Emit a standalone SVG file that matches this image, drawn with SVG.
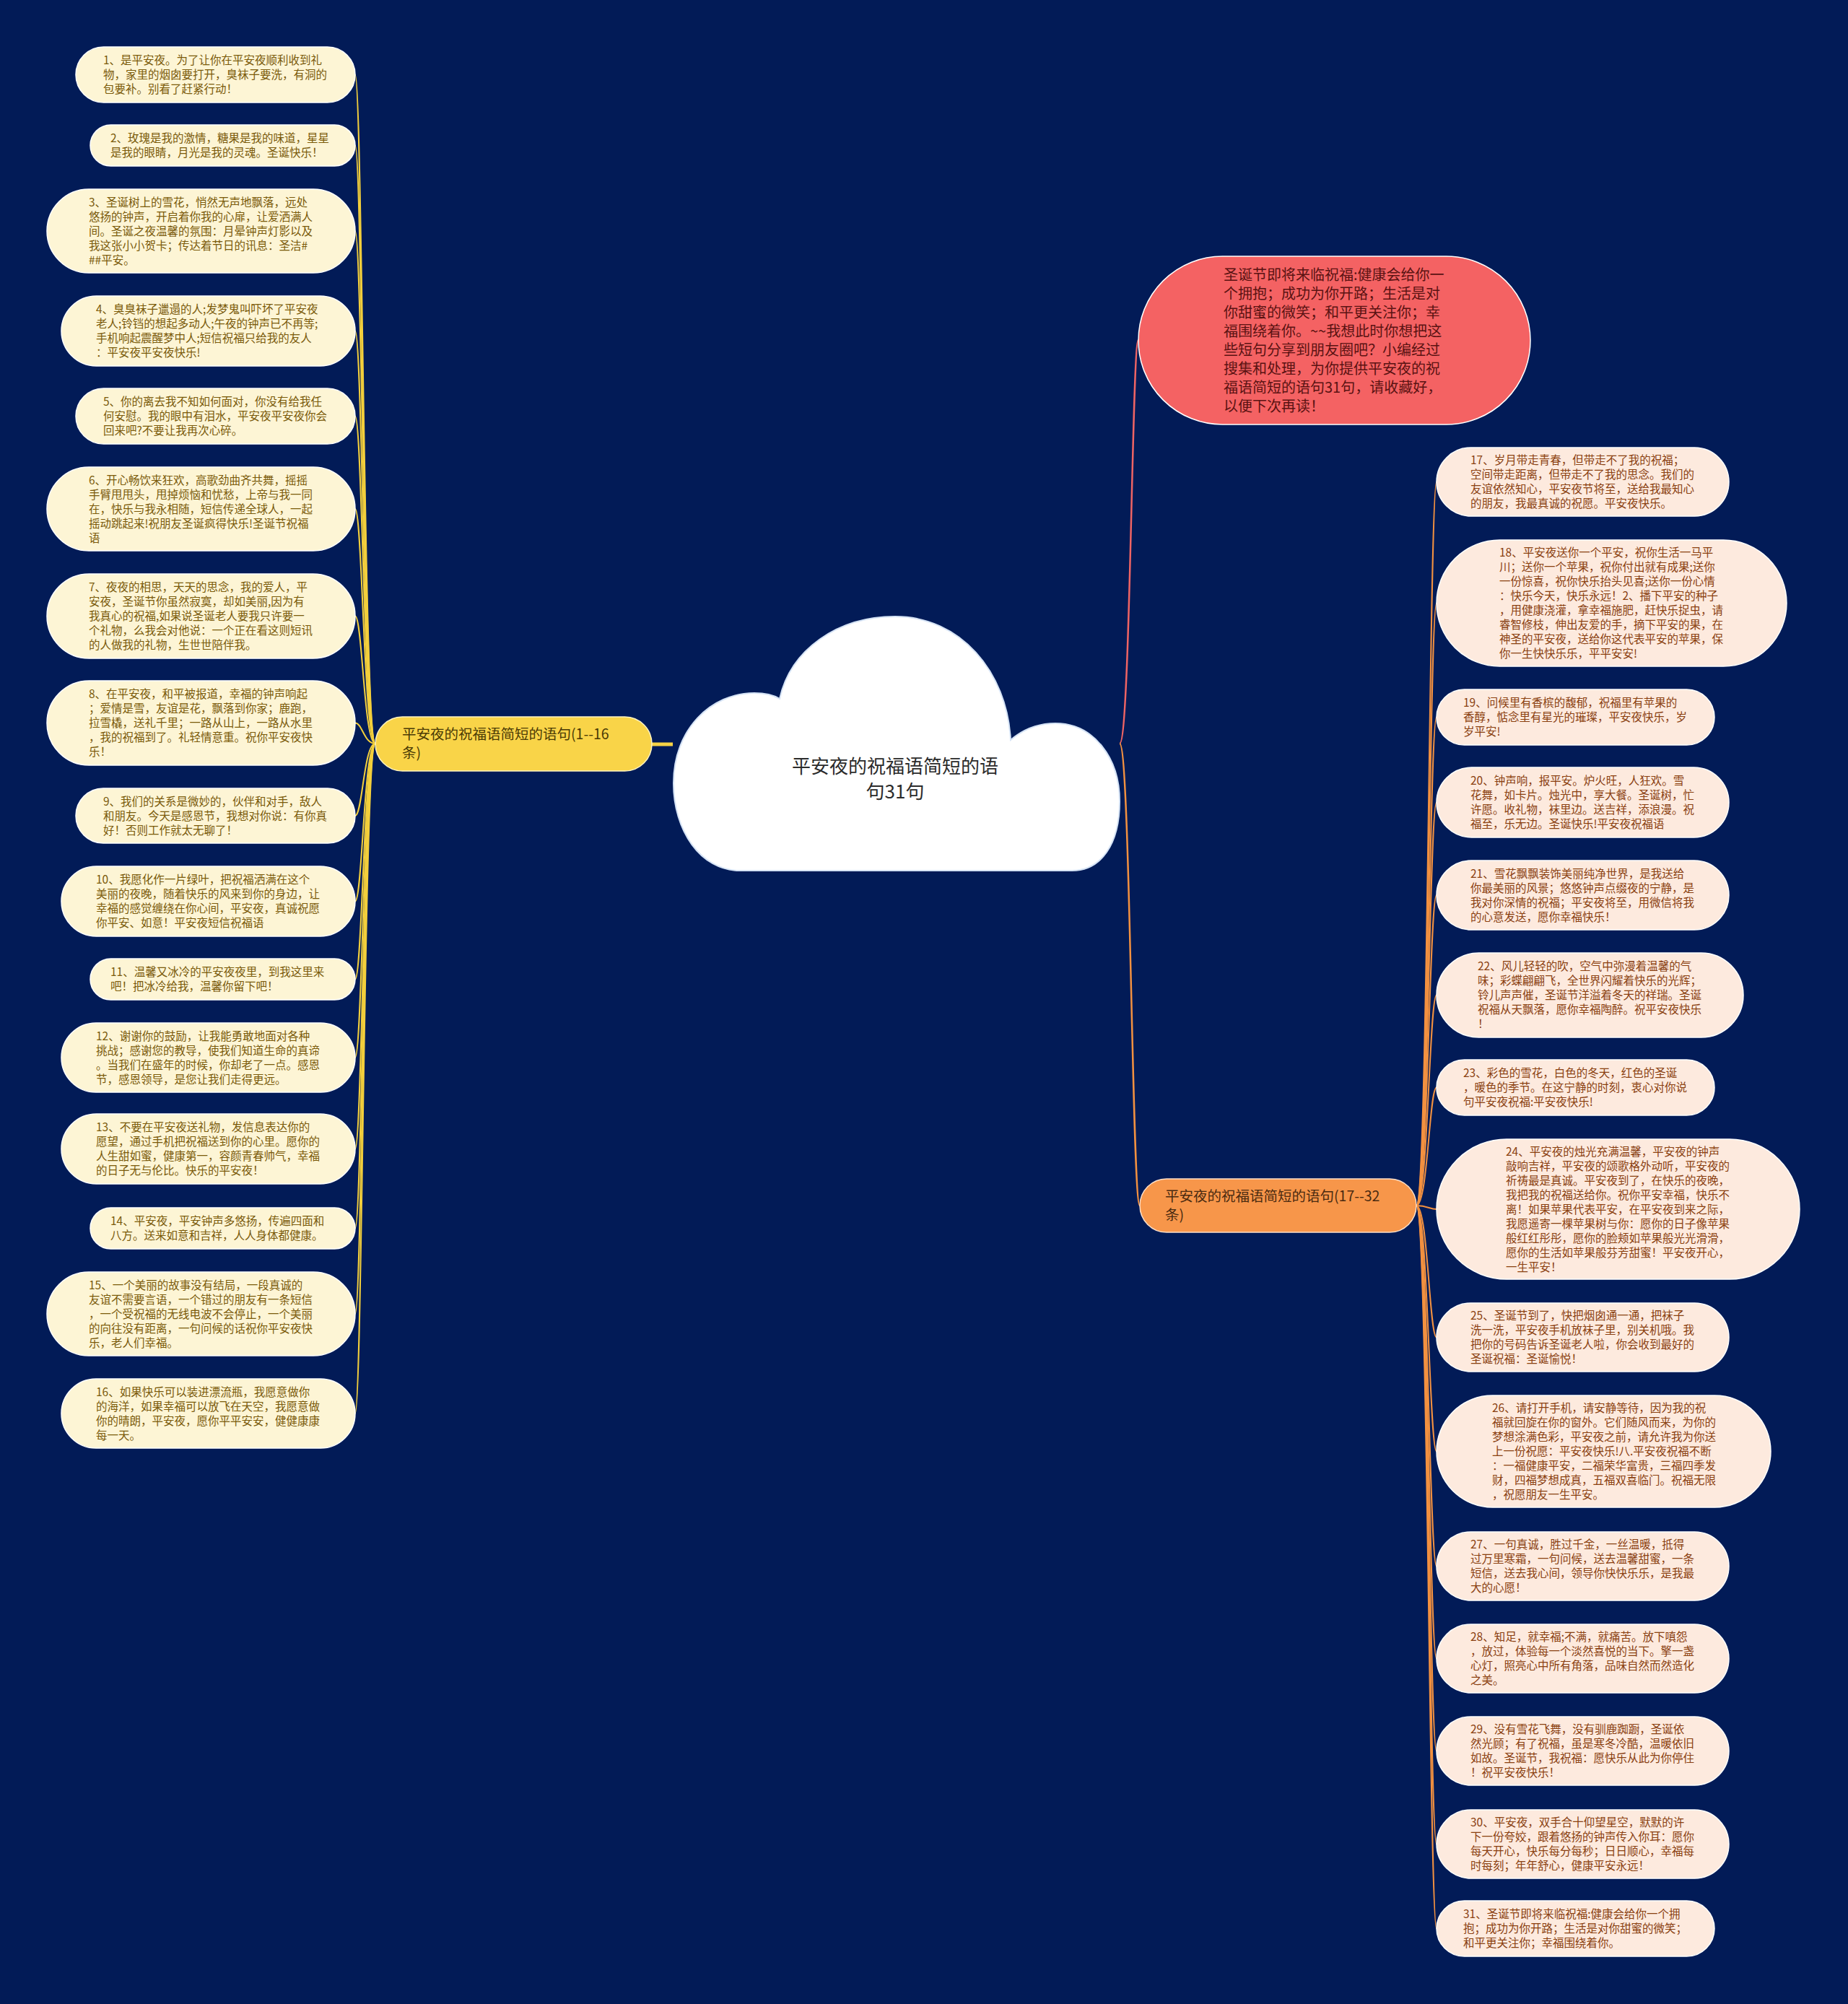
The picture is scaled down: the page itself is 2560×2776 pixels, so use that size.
<svg xmlns="http://www.w3.org/2000/svg" width="2560" height="2776" viewBox="0 0 2560 2776">
<style>
text{font-family:"Noto Sans CJK SC","Noto Sans CJK JP",sans-serif;}
.ln{fill:#fdf5d5;stroke:#ffffff;stroke-width:1.5;}
.rn{fill:#fdeade;stroke:#ffffff;stroke-width:1.5;}
.tl{font-size:15.5px;fill:#7a5a0a;}
.tr{font-size:15.5px;fill:#8a4010;}
.cl{fill:none;stroke:#f3cf3c;stroke-width:2;}
.cr{fill:none;stroke:#f39140;stroke-width:2;}
</style>
<rect x="0" y="0" width="2560" height="2776" fill="#021b57"/>
<g id="connectors">
<path d="M903,1031 L932,1031" stroke="#f6d345" stroke-width="5" fill="none"/>
<path d="M1551,1030 C1566,1030 1568,471 1577,471" stroke="#ef6464" stroke-width="2.5" fill="none"/>
<path d="M1551,1030 C1566,1030 1568,1670 1579,1670" stroke="#f39140" stroke-width="2.5" fill="none"/>
<path class="cl" d="M520,1030 C504,1030 502,103.5 492,103.5"/>
<path class="cl" d="M520,1030 C504,1030 502,201.5 492,201.5"/>
<path class="cl" d="M520,1030 C504,1030 502,320 492,320"/>
<path class="cl" d="M520,1030 C504,1030 502,458.5 492,458.5"/>
<path class="cl" d="M520,1030 C504,1030 502,576.5 492,576.5"/>
<path class="cl" d="M520,1030 C504,1030 502,705 492,705"/>
<path class="cl" d="M520,1030 C504,1030 502,853.5 492,853.5"/>
<path class="cl" d="M520,1030 C504,1030 502,1001.5 492,1001.5"/>
<path class="cl" d="M520,1030 C504,1030 502,1130 492,1130"/>
<path class="cl" d="M520,1030 C504,1030 502,1248.5 492,1248.5"/>
<path class="cl" d="M520,1030 C504,1030 502,1356.5 492,1356.5"/>
<path class="cl" d="M520,1030 C504,1030 502,1465 492,1465"/>
<path class="cl" d="M520,1030 C504,1030 502,1591.5 492,1591.5"/>
<path class="cl" d="M520,1030 C504,1030 502,1701.5 492,1701.5"/>
<path class="cl" d="M520,1030 C504,1030 502,1820 492,1820"/>
<path class="cl" d="M520,1030 C504,1030 502,1958 492,1958"/>
<path class="cr" d="M1962,1670 C1978,1670 1980,667.5 1990,667.5"/>
<path class="cr" d="M1962,1670 C1978,1670 1980,835.5 1990,835.5"/>
<path class="cr" d="M1962,1670 C1978,1670 1980,993.5 1990,993.5"/>
<path class="cr" d="M1962,1670 C1978,1670 1980,1111.5 1990,1111.5"/>
<path class="cr" d="M1962,1670 C1978,1670 1980,1240 1990,1240"/>
<path class="cr" d="M1962,1670 C1978,1670 1980,1378.5 1990,1378.5"/>
<path class="cr" d="M1962,1670 C1978,1670 1980,1506.5 1990,1506.5"/>
<path class="cr" d="M1962,1670 C1978,1670 1980,1675 1990,1675"/>
<path class="cr" d="M1962,1670 C1978,1670 1980,1852.5 1990,1852.5"/>
<path class="cr" d="M1962,1670 C1978,1670 1980,2010.5 1990,2010.5"/>
<path class="cr" d="M1962,1670 C1978,1670 1980,2169.5 1990,2169.5"/>
<path class="cr" d="M1962,1670 C1978,1670 1980,2297.5 1990,2297.5"/>
<path class="cr" d="M1962,1670 C1978,1670 1980,2425.5 1990,2425.5"/>
<path class="cr" d="M1962,1670 C1978,1670 1980,2554.5 1990,2554.5"/>
<path class="cr" d="M1962,1670 C1978,1670 1980,2671.5 1990,2671.5"/>
</g>
<g id="root">
<path d="M1025,1206 C970,1206 933,1150 933,1085 C933,1010 985,960 1045,960 C1060,960 1072,963 1080,968 C1095,900 1160,854 1240,854 C1330,854 1395,930 1400,1025 C1420,1008 1440,1002 1462,1002 C1515,1002 1551,1050 1551,1110 C1551,1170 1525,1206 1485,1206 Z" fill="#ffffff" stroke="#d5e3f5" stroke-width="2"/>
<text x="1240" y="1071" font-size="26" fill="#2b2b2b" text-anchor="middle">平安夜的祝福语简短的语</text>
<text x="1240" y="1106" font-size="26" fill="#2b2b2b" text-anchor="middle">句31句</text>
</g>
<g id="branch-left">
<rect x="520" y="993" width="383" height="75" rx="37.5" fill="#f9d448" stroke="#fff4c0" stroke-width="1.5"/>
<text font-size="19.5" fill="#4a3a05"><tspan x="557" y="1023.5">平安夜的祝福语简短的语句(1--16</tspan><tspan x="557" y="1050">条)</tspan></text>
</g>
<g id="branch-right">
<rect x="1579" y="1633" width="383" height="74" rx="37" fill="#f7964a" stroke="#ffe0c8" stroke-width="1.5"/>
<text font-size="19.5" fill="#4a2a10"><tspan x="1614" y="1663.5">平安夜的祝福语简短的语句(17--32</tspan><tspan x="1614" y="1690">条)</tspan></text>
</g>
<g id="summary">
<rect x="1577" y="355" width="543" height="233" rx="116.5" fill="#f46263" stroke="#ffffff" stroke-width="1.5"/>
<text font-size="20" fill="#5a1212"><tspan x="1695" y="387.5">圣诞节即将来临祝福:健康会给你一</tspan><tspan x="1695" y="413.5">个拥抱；成功为你开路；生活是对</tspan><tspan x="1695" y="439.5">你甜蜜的微笑；和平更关注你；幸</tspan><tspan x="1695" y="465.5">福围绕着你。~~我想此时你想把这</tspan><tspan x="1695" y="491.5">些短句分享到朋友圈吧？小编经过</tspan><tspan x="1695" y="517.5">搜集和处理，为你提供平安夜的祝</tspan><tspan x="1695" y="543.5">福语简短的语句31句，请收藏好，</tspan><tspan x="1695" y="569.5">以便下次再读！</tspan></text>
</g>
<g id="n1"><rect class="ln" x="105" y="65" width="387" height="77" rx="38.5"/><text class="tl"><tspan x="143" y="89">1、是平安夜。为了让你在平安夜顺利收到礼</tspan><tspan x="143" y="109">物，家里的烟囱要打开，臭袜子要洗，有洞的</tspan><tspan x="143" y="129">包要补。别看了赶紧行动！</tspan></text></g>
<g id="n2"><rect class="ln" x="125" y="173" width="367" height="57" rx="28.5"/><text class="tl"><tspan x="153" y="197">2、玫瑰是我的激情，糖果是我的味道，星星</tspan><tspan x="153" y="217">是我的眼睛，月光是我的灵魂。圣诞快乐！</tspan></text></g>
<g id="n3"><rect class="ln" x="65" y="262" width="427" height="116" rx="58"/><text class="tl"><tspan x="123" y="285.5">3、圣诞树上的雪花，悄然无声地飘落，远处</tspan><tspan x="123" y="305.5">悠扬的钟声，开启着你我的心扉，让爱洒满人</tspan><tspan x="123" y="325.5">间。圣诞之夜温馨的氛围：月晕钟声灯影以及</tspan><tspan x="123" y="345.5">我这张小小贺卡；传达着节日的讯息：圣洁#</tspan><tspan x="123" y="365.5">##平安。</tspan></text></g>
<g id="n4"><rect class="ln" x="85" y="410" width="407" height="97" rx="48.5"/><text class="tl"><tspan x="133" y="434">4、臭臭袜子邋遢的人;发梦鬼叫吓坏了平安夜</tspan><tspan x="133" y="454">老人;铃铛的想起多动人;午夜的钟声已不再等;</tspan><tspan x="133" y="474">手机响起震醒梦中人;短信祝福只给我的友人</tspan><tspan x="133" y="494">：平安夜平安夜快乐!</tspan></text></g>
<g id="n5"><rect class="ln" x="105" y="538" width="387" height="77" rx="38.5"/><text class="tl"><tspan x="143" y="562">5、你的离去我不知如何面对，你没有给我任</tspan><tspan x="143" y="582">何安慰。我的眼中有泪水，平安夜平安夜你会</tspan><tspan x="143" y="602">回来吧?不要让我再次心碎。</tspan></text></g>
<g id="n6"><rect class="ln" x="65" y="647" width="427" height="116" rx="58"/><text class="tl"><tspan x="123" y="670.5">6、开心畅饮来狂欢，高歌劲曲齐共舞，摇摇</tspan><tspan x="123" y="690.5">手臂甩甩头，甩掉烦恼和忧愁，上帝与我一同</tspan><tspan x="123" y="710.5">在，快乐与我永相随，短信传递全球人，一起</tspan><tspan x="123" y="730.5">摇动跳起来!祝朋友圣诞疯得快乐!圣诞节祝福</tspan><tspan x="123" y="750.5">语</tspan></text></g>
<g id="n7"><rect class="ln" x="65" y="795" width="427" height="117" rx="58.5"/><text class="tl"><tspan x="123" y="819">7、夜夜的相思，天天的思念，我的爱人，平</tspan><tspan x="123" y="839">安夜，圣诞节你虽然寂寞，却如美丽,因为有</tspan><tspan x="123" y="859">我真心的祝福,如果说圣诞老人要我只许要一</tspan><tspan x="123" y="879">个礼物，么我会对他说：一个正在看这则短讯</tspan><tspan x="123" y="899">的人做我的礼物，生世世陪伴我。</tspan></text></g>
<g id="n8"><rect class="ln" x="65" y="943" width="427" height="117" rx="58.5"/><text class="tl"><tspan x="123" y="967">8、在平安夜，和平被报道，幸福的钟声响起</tspan><tspan x="123" y="987">；爱情是雪，友谊是花，飘落到你家；鹿跑，</tspan><tspan x="123" y="1007">拉雪橇，送礼千里；一路从山上，一路从水里</tspan><tspan x="123" y="1027">，我的祝福到了。礼轻情意重。祝你平安夜快</tspan><tspan x="123" y="1047">乐！</tspan></text></g>
<g id="n9"><rect class="ln" x="105" y="1092" width="387" height="76" rx="38"/><text class="tl"><tspan x="143" y="1115.5">9、我们的关系是微妙的，伙伴和对手，敌人</tspan><tspan x="143" y="1135.5">和朋友。今天是感恩节，我想对你说：有你真</tspan><tspan x="143" y="1155.5">好！否则工作就太无聊了！</tspan></text></g>
<g id="n10"><rect class="ln" x="85" y="1200" width="407" height="97" rx="48.5"/><text class="tl"><tspan x="133" y="1224">10、我愿化作一片绿叶，把祝福洒满在这个</tspan><tspan x="133" y="1244">美丽的夜晚，随着快乐的风来到你的身边，让</tspan><tspan x="133" y="1264">幸福的感觉缠绕在你心间，平安夜，真诚祝愿</tspan><tspan x="133" y="1284">你平安、如意！平安夜短信祝福语</tspan></text></g>
<g id="n11"><rect class="ln" x="125" y="1328" width="367" height="57" rx="28.5"/><text class="tl"><tspan x="153" y="1352">11、温馨又冰冷的平安夜夜里，到我这里来</tspan><tspan x="153" y="1372">吧！把冰冷给我，温馨你留下吧！</tspan></text></g>
<g id="n12"><rect class="ln" x="85" y="1417" width="407" height="96" rx="48"/><text class="tl"><tspan x="133" y="1440.5">12、谢谢你的鼓励，让我能勇敢地面对各种</tspan><tspan x="133" y="1460.5">挑战；感谢您的教导，使我们知道生命的真谛</tspan><tspan x="133" y="1480.5">。当我们在盛年的时候，你却老了一点。感恩</tspan><tspan x="133" y="1500.5">节，感恩领导，是您让我们走得更远。</tspan></text></g>
<g id="n13"><rect class="ln" x="85" y="1543" width="407" height="97" rx="48.5"/><text class="tl"><tspan x="133" y="1567">13、不要在平安夜送礼物，发信息表达你的</tspan><tspan x="133" y="1587">愿望，通过手机把祝福送到你的心里。愿你的</tspan><tspan x="133" y="1607">人生甜如蜜，健康第一，容颜青春帅气，幸福</tspan><tspan x="133" y="1627">的日子无与伦比。快乐的平安夜！</tspan></text></g>
<g id="n14"><rect class="ln" x="125" y="1673" width="367" height="57" rx="28.5"/><text class="tl"><tspan x="153" y="1697">14、平安夜，平安钟声多悠扬，传遍四面和</tspan><tspan x="153" y="1717">八方。送来如意和吉祥，人人身体都健康。</tspan></text></g>
<g id="n15"><rect class="ln" x="65" y="1762" width="427" height="116" rx="58"/><text class="tl"><tspan x="123" y="1785.5">15、一个美丽的故事没有结局，一段真诚的</tspan><tspan x="123" y="1805.5">友谊不需要言语，一个错过的朋友有一条短信</tspan><tspan x="123" y="1825.5">，一个受祝福的无线电波不会停止，一个美丽</tspan><tspan x="123" y="1845.5">的向往没有距离，一句问候的话祝你平安夜快</tspan><tspan x="123" y="1865.5">乐，老人们幸福。</tspan></text></g>
<g id="n16"><rect class="ln" x="85" y="1910" width="407" height="96" rx="48"/><text class="tl"><tspan x="133" y="1933.5">16、如果快乐可以装进漂流瓶，我愿意做你</tspan><tspan x="133" y="1953.5">的海洋，如果幸福可以放飞在天空，我愿意做</tspan><tspan x="133" y="1973.5">你的晴朗，平安夜，愿你平平安安，健健康康</tspan><tspan x="133" y="1993.5">每一天。</tspan></text></g>
<g id="n17"><rect class="rn" x="1990" y="620" width="405" height="95" rx="47.5"/><text class="tr"><tspan x="2037" y="643">17、岁月带走青春，但带走不了我的祝福；</tspan><tspan x="2037" y="663">空间带走距离，但带走不了我的思念。我们的</tspan><tspan x="2037" y="683">友谊依然知心，平安夜节将至，送给我最知心</tspan><tspan x="2037" y="703">的朋友，我最真诚的祝愿。平安夜快乐。</tspan></text></g>
<g id="n18"><rect class="rn" x="1990" y="748" width="485" height="175" rx="87.5"/><text class="tr"><tspan x="2077" y="771">18、平安夜送你一个平安，祝你生活一马平</tspan><tspan x="2077" y="791">川；送你一个苹果，祝你付出就有成果;送你</tspan><tspan x="2077" y="811">一份惊喜，祝你快乐抬头见喜;送你一份心情</tspan><tspan x="2077" y="831">：快乐今天，快乐永远！2、播下平安的种子</tspan><tspan x="2077" y="851">，用健康浇灌，拿幸福施肥，赶快乐捉虫，请</tspan><tspan x="2077" y="871">睿智修枝，伸出友爱的手，摘下平安的果，在</tspan><tspan x="2077" y="891">神圣的平安夜，送给你这代表平安的苹果，保</tspan><tspan x="2077" y="911">你一生快快乐乐，平平安安!</tspan></text></g>
<g id="n19"><rect class="rn" x="1990" y="955" width="385" height="77" rx="38.5"/><text class="tr"><tspan x="2027" y="979">19、问候里有香槟的馥郁，祝福里有苹果的</tspan><tspan x="2027" y="999">香醇，惦念里有星光的璀璨，平安夜快乐，岁</tspan><tspan x="2027" y="1019">岁平安!</tspan></text></g>
<g id="n20"><rect class="rn" x="1990" y="1063" width="405" height="97" rx="48.5"/><text class="tr"><tspan x="2037" y="1087">20、钟声响，报平安。炉火旺，人狂欢。雪</tspan><tspan x="2037" y="1107">花舞，如卡片。烛光中，享大餐。圣诞树，忙</tspan><tspan x="2037" y="1127">许愿。收礼物，袜里边。送吉祥，添浪漫。祝</tspan><tspan x="2037" y="1147">福至，乐无边。圣诞快乐!平安夜祝福语</tspan></text></g>
<g id="n21"><rect class="rn" x="1990" y="1192" width="405" height="96" rx="48"/><text class="tr"><tspan x="2037" y="1215.5">21、雪花飘飘装饰美丽纯净世界，是我送给</tspan><tspan x="2037" y="1235.5">你最美丽的风景；悠悠钟声点缀夜的宁静，是</tspan><tspan x="2037" y="1255.5">我对你深情的祝福；平安夜将至，用微信将我</tspan><tspan x="2037" y="1275.5">的心意发送，愿你幸福快乐！</tspan></text></g>
<g id="n22"><rect class="rn" x="1990" y="1320" width="425" height="117" rx="58.5"/><text class="tr"><tspan x="2047" y="1344">22、风儿轻轻的吹，空气中弥漫着温馨的气</tspan><tspan x="2047" y="1364">味；彩蝶翩翩飞，全世界闪耀着快乐的光辉；</tspan><tspan x="2047" y="1384">铃儿声声催，圣诞节洋溢着冬天的祥瑞。圣诞</tspan><tspan x="2047" y="1404">祝福从天飘落，愿你幸福陶醉。祝平安夜快乐</tspan><tspan x="2047" y="1424">！</tspan></text></g>
<g id="n23"><rect class="rn" x="1990" y="1468" width="385" height="77" rx="38.5"/><text class="tr"><tspan x="2027" y="1492">23、彩色的雪花，白色的冬天，红色的圣诞</tspan><tspan x="2027" y="1512">，暖色的季节。在这宁静的时刻，衷心对你说</tspan><tspan x="2027" y="1532">句平安夜祝福:平安夜快乐!</tspan></text></g>
<g id="n24"><rect class="rn" x="1990" y="1578" width="503" height="194" rx="97"/><text class="tr"><tspan x="2086" y="1600.5">24、平安夜的烛光充满温馨，平安夜的钟声</tspan><tspan x="2086" y="1620.5">敲响吉祥，平安夜的颂歌格外动听，平安夜的</tspan><tspan x="2086" y="1640.5">祈祷最是真诚。平安夜到了，在快乐的夜晚，</tspan><tspan x="2086" y="1660.5">我把我的祝福送给你。祝你平安幸福，快乐不</tspan><tspan x="2086" y="1680.5">离！如果苹果代表平安，在平安夜到来之际，</tspan><tspan x="2086" y="1700.5">我愿遥寄一棵苹果树与你：愿你的日子像苹果</tspan><tspan x="2086" y="1720.5">般红红彤彤，愿你的脸颊如苹果般光光滑滑，</tspan><tspan x="2086" y="1740.5">愿你的生活如苹果般芬芳甜蜜！平安夜开心，</tspan><tspan x="2086" y="1760.5">一生平安！</tspan></text></g>
<g id="n25"><rect class="rn" x="1990" y="1805" width="405" height="95" rx="47.5"/><text class="tr"><tspan x="2037" y="1828">25、圣诞节到了，快把烟囱通一通，把袜子</tspan><tspan x="2037" y="1848">洗一洗，平安夜手机放袜子里，别关机哦。我</tspan><tspan x="2037" y="1868">把你的号码告诉圣诞老人啦，你会收到最好的</tspan><tspan x="2037" y="1888">圣诞祝福：圣诞愉悦！</tspan></text></g>
<g id="n26"><rect class="rn" x="1990" y="1933" width="463" height="155" rx="77.5"/><text class="tr"><tspan x="2067" y="1956">26、请打开手机，请安静等待，因为我的祝</tspan><tspan x="2067" y="1976">福就回旋在你的窗外。它们随风而来，为你的</tspan><tspan x="2067" y="1996">梦想涂满色彩，平安夜之前，请允许我为你送</tspan><tspan x="2067" y="2016">上一份祝愿：平安夜快乐!八.平安夜祝福不断</tspan><tspan x="2067" y="2036">：一福健康平安，二福荣华富贵，三福四季发</tspan><tspan x="2067" y="2056">财，四福梦想成真，五福双喜临门。祝福无限</tspan><tspan x="2067" y="2076">，祝愿朋友一生平安。</tspan></text></g>
<g id="n27"><rect class="rn" x="1990" y="2122" width="405" height="95" rx="47.5"/><text class="tr"><tspan x="2037" y="2145">27、一句真诚，胜过千金，一丝温暖，抵得</tspan><tspan x="2037" y="2165">过万里寒霜，一句问候，送去温馨甜蜜，一条</tspan><tspan x="2037" y="2185">短信，送去我心间，领导你快快乐乐，是我最</tspan><tspan x="2037" y="2205">大的心愿！</tspan></text></g>
<g id="n28"><rect class="rn" x="1990" y="2250" width="405" height="95" rx="47.5"/><text class="tr"><tspan x="2037" y="2273">28、知足，就幸福;不满，就痛苦。放下嗔怨</tspan><tspan x="2037" y="2293">，放过，体验每一个淡然喜悦的当下。擎一盏</tspan><tspan x="2037" y="2313">心灯，照亮心中所有角落，品味自然而然造化</tspan><tspan x="2037" y="2333">之美。</tspan></text></g>
<g id="n29"><rect class="rn" x="1990" y="2378" width="405" height="95" rx="47.5"/><text class="tr"><tspan x="2037" y="2401">29、没有雪花飞舞，没有驯鹿踟蹰，圣诞依</tspan><tspan x="2037" y="2421">然光顾；有了祝福，虽是寒冬冷酷，温暖依旧</tspan><tspan x="2037" y="2441">如故。圣诞节，我祝福：愿快乐从此为你停住</tspan><tspan x="2037" y="2461">！祝平安夜快乐！</tspan></text></g>
<g id="n30"><rect class="rn" x="1990" y="2507" width="405" height="95" rx="47.5"/><text class="tr"><tspan x="2037" y="2530">30、平安夜，双手合十仰望星空，默默的许</tspan><tspan x="2037" y="2550">下一份夸姣，跟着悠扬的钟声传入你耳：愿你</tspan><tspan x="2037" y="2570">每天开心，快乐每分每秒；日日顺心，幸福每</tspan><tspan x="2037" y="2590">时每刻；年年舒心，健康平安永远！</tspan></text></g>
<g id="n31"><rect class="rn" x="1990" y="2633" width="385" height="77" rx="38.5"/><text class="tr"><tspan x="2027" y="2657">31、圣诞节即将来临祝福:健康会给你一个拥</tspan><tspan x="2027" y="2677">抱；成功为你开路；生活是对你甜蜜的微笑；</tspan><tspan x="2027" y="2697">和平更关注你；幸福围绕着你。</tspan></text></g>
</svg>
